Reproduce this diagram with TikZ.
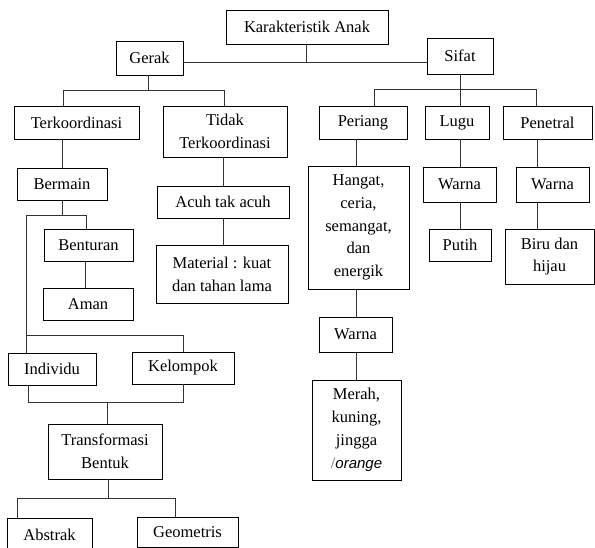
\documentclass[tikz,border=0pt]{standalone}
\usepackage{fontspec}
\setmainfont{Liberation Serif}
\newfontfamily\sansf{Liberation Sans}
\begin{document}
\begin{tikzpicture}[x=1pt,y=-1pt,
  bx/.style={draw=black, line width=0.9pt, inner sep=0pt, align=center,
    font=\fontsize{16.5}{22.8}\selectfont},
  ln/.style={draw=black!80, line width=0.85pt}]
\useasboundingbox (0,0) rectangle (595,548);
% nodes
\node[bx, minimum width=162, minimum height=34] (ka) at (307,27) {Karakteristik Anak};
\node[bx, minimum width=67, minimum height=34] (gerak) at (149.5,58) {Gerak};
\node[bx, minimum width=66, minimum height=36] (sifat) at (460,56) {Sifat};
\node[bx, minimum width=125, minimum height=33] (terk) at (76.5,122.5) {Terkoordinasi};
\node[bx, minimum width=124, minimum height=51] (tidak) at (225,131.5) {Tidak\\Terkoordinasi};
\node[bx, minimum width=88, minimum height=33] (periang) at (363,122.5) {Periang};
\node[bx, minimum width=64, minimum height=33] (lugu) at (457,122.5) {Lugu};
\node[bx, minimum width=89, minimum height=33] (penetral) at (547.5,122.5) {Penetral};
\node[bx, minimum width=90, minimum height=32] (bermain) at (62,184) {Bermain};
\node[bx, minimum width=132, minimum height=32] (acuh) at (223,202) {Acuh tak acuh};
\node[bx, minimum width=132, minimum height=58] (material) at (222,274) {Material : kuat\\dan tahan lama};
\node[bx, minimum width=89, minimum height=32] (benturan) at (88.5,245) {Benturan};
\node[bx, minimum width=90, minimum height=32] (aman) at (88,304) {Aman};
\node[bx, minimum width=88, minimum height=32] (individu) at (52,369) {Individu};
\node[bx, minimum width=102, minimum height=32] (kelompok) at (183,368) {Kelompok};
\node[bx, minimum width=114, minimum height=55] (transf) at (105,451.5) {Transformasi\\Bentuk};
\node[bx, minimum width=85, minimum height=34] (abstrak) at (49.5,535) {Abstrak};
\node[bx, minimum width=101, minimum height=30] (geometris) at (187.5,532) {Geometris};
\node[bx, minimum width=101, minimum height=123] (hangat) at (358.5,227.5) {Hangat,\\ceria,\\semangat,\\dan\\energik};
\node[bx, minimum width=73, minimum height=35] (warna1) at (459.5,184.5) {Warna};
\node[bx, minimum width=62, minimum height=32] (putih) at (460,245) {Putih};
\node[bx, minimum width=73, minimum height=35] (warna2) at (552.5,184.5) {Warna};
\node[bx, minimum width=89, minimum height=55] (biru) at (549.5,256.5) {Biru dan\\hijau};
\node[bx, minimum width=73, minimum height=35] (warna3) at (355.5,334.5) {Warna};
\node[bx, minimum width=89, minimum height=100] (merah) at (356.5,430) {Merah,\\kuning,\\jingga\\{\color{black!60}/}{\sansf\itshape\fontsize{15}{20}\selectfont orange}};
% junction coordinates
\coordinate (kaj) at (306,62);
\coordinate (gj) at (148,90);
\coordinate (gL) at (63,90);
\coordinate (gR) at (224,90);
\coordinate (sj) at (460,89);
\coordinate (sL) at (374,89);
\coordinate (sR) at (536,89);
\coordinate (bL) at (26,215);
\coordinate (bR) at (86,215);
\coordinate (iL) at (26,335);
\coordinate (iR) at (183,335);
\coordinate (tL) at (28,402);
\coordinate (tR) at (183,402);
\coordinate (tM) at (107,402);
\coordinate (fL) at (17,498);
\coordinate (fR) at (175,498);
\coordinate (fM) at (108,498);
\coordinate (bx) at (85,0);
\coordinate (px) at (356,0);
\coordinate (lx) at (460,0);
\coordinate (nx) at (537,0);
% connectors
\draw[ln] (ka.south -| kaj) -- (kaj);
\draw[ln] (gerak.east |- kaj) -- (sifat.west |- kaj);
\draw[ln] (gerak.south -| gj) -- (gj);
\draw[ln] (terk.north -| gL) -- (gL) -- (gR) -- (tidak.north -| gR);
\draw[ln] (sifat.south -| sj) -- (sj);
\draw[ln] (periang.north -| sL) -- (sL) -- (sR) -- (penetral.north -| sR);
\draw[ln] (lugu.north -| sj) -- (sj);
\draw[ln] (bermain.north) -- (bermain.north |- terk.south);
\draw[ln] (acuh.north) -- (acuh.north |- tidak.south);
\draw[ln] (acuh.south) -- (acuh.south |- material.north);
\draw[ln] (bermain.south) -- (bermain.south |- bL);
\draw[ln] (individu.north -| bL) -- (bL) -- (bR) -- (benturan.north -| bR);
\draw[ln] (iL) -- (iR) -- (kelompok.north -| iR);
\draw[ln] (benturan.south -| bx) -- (aman.north -| bx);
\draw[ln] (individu.south -| tL) -- (tL) -- (tR) -- (kelompok.south -| tR);
\draw[ln] (tM) -- (transf.north -| tM);
\draw[ln] (transf.south -| fM) -- (fM);
\draw[ln] (abstrak.north -| fL) -- (fL) -- (fR) -- (geometris.north -| fR);
\draw[ln] (periang.south -| px) -- (hangat.north -| px);
\draw[ln] (hangat.south -| px) -- (warna3.north -| px);
\draw[ln] (warna3.south -| px) -- (merah.north -| px);
\draw[ln] (lugu.south -| lx) -- (warna1.north -| lx);
\draw[ln] (warna1.south -| lx) -- (putih.north -| lx);
\draw[ln] (penetral.south -| nx) -- (warna2.north -| nx);
\draw[ln] (warna2.south -| nx) -- (biru.north -| nx);
\end{tikzpicture}
\end{document}
